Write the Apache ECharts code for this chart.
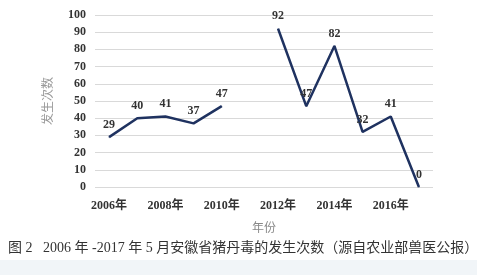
<!DOCTYPE html>
<html><head><meta charset="utf-8">
<script src="https://cdn.jsdelivr.net/npm/echarts@6/dist/echarts.min.js"></script>
<style>html,body{margin:0;padding:0;background:#fff}#c{width:477px;height:275px}</style>
</head><body><div id="c"></div>
<script>
const years = ['2006年','2007年','2008年','2009年','2010年','2011年','2012年','2013年','2014年','2015年','2016年','2017年'];
const counts = [29, 40, 41, 37, 47, null, 92, 47, 82, 32, 41, 0];
const yTicks = {min: 0, max: 100, interval: 10};
const yName = '发生次数';
const xName = '年份';
const caption = '图 2   2006 年 -2017 年 5 月安徽省猪丹毒的发生次数（源自农业部兽医公报）';

const chart = echarts.init(document.getElementById('c'));
const serif = '"Liberation Serif","DejaVu Serif",serif';
const cjk = '"Liberation Serif","Noto Sans CJK SC",serif';
chart.setOption({
  animation: false,
  backgroundColor: '#fff',
  grid: {left: 95, right: 44, top: 15, bottom: 88},
  graphic: [
    {type: 'rect', left: 0, top: 260, shape: {width: 477, height: 15}, style: {fill: '#f1f5f8'}},
    {type: 'text', left: 8, top: 241, style: {text: caption, font: '14px ' + cjk, fill: '#333'}}
  ],
  xAxis: {
    type: 'category', data: years, boundaryGap: true,
    name: xName, nameLocation: 'middle', nameGap: 36,
    nameTextStyle: {color: '#888', fontSize: 12, fontFamily: cjk},
    axisLine: {show: false}, axisTick: {show: false},
    axisLabel: {interval: 1, color: '#333', fontSize: 12, fontFamily: cjk, fontWeight: 'bold', margin: 13}
  },
  yAxis: {
    type: 'value', min: yTicks.min, max: yTicks.max, interval: yTicks.interval,
    name: yName, nameLocation: 'middle', nameGap: 40, nameRotate: 90,
    nameTextStyle: {color: '#999', fontSize: 12, fontFamily: cjk},
    axisLine: {show: false}, axisTick: {show: false},
    axisLabel: {color: '#333', fontSize: 12, fontFamily: serif, fontWeight: 'bold', margin: 9},
    splitLine: {lineStyle: {color: '#d9d9d9', width: 1.2}}
  },
  series: [{
    type: 'line', data: counts, connectNulls: false,
    symbol: 'circle', symbolSize: 1, showSymbol: true,
    itemStyle: {color: '#1f3260'},
    lineStyle: {color: '#1f3260', width: 2.5},
    label: {show: true, position: 'top', distance: 6, color: '#333', fontSize: 12, fontFamily: serif, fontWeight: 'bold'}
  }]
});
</script></body></html>
